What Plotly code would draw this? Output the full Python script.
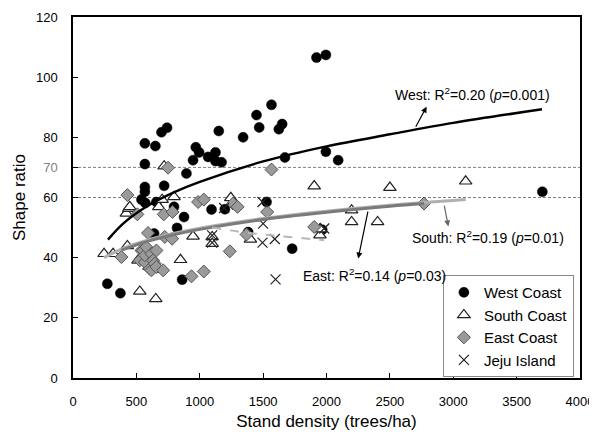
import plotly.graph_objects as go

# ---------------- data ----------------
west_x = [271, 374, 540, 567, 567, 567, 567, 571, 650, 658, 698, 719, 742, 797, 821, 640, 861, 876,
          895, 947, 969, 995, 1066, 1093, 1124, 1124, 1150, 1172, 1198, 1342, 1382, 1448, 1469, 1527,
          1566, 1624, 1650, 1672, 1729, 1921, 1966, 1995, 1995, 2092, 3703]
west_y = [31.3, 28.2, 59.3, 78, 71.1, 63.5, 61.9, 58.2, 77.1, 58.5, 81.7, 63.9, 83.2, 56.9, 49.9, 48, 32.7, 53.5,
          68, 72.4, 76.7, 75, 73.5, 56, 75, 72.1, 82.1, 71.7, 56.1, 80, 48.5, 87.4, 83.3, 58.5,
          90.8, 82.7, 84.4, 73.3, 43, 106.5, 49.3, 107.4, 75.2, 72.4, 61.9]

south_x = [245, 316, 429, 421, 440, 448, 513, 527, 545, 600, 653, 653, 677, 703, 719, 797, 848, 947,
           1098, 1098, 1245, 1400, 1903, 1948, 1953, 2198, 2198, 2403, 2500, 3098]
south_y = [41.3, 41.3, 43.9, 54.7, 56.3, 56.9, 39.1, 28.8, 40, 37, 26.3, 36, 56.9, 59.3, 70.4, 60.2, 39.3, 47.1,
           46.9, 44.7, 59.9, 46.1, 63.8, 47.5, 49.5, 55.8, 51.9, 51.9, 63.3, 65.4]

east_x = [382, 429, 508, 527, 540, 553, 567, 567, 579, 592, 606, 619, 619, 632, 645, 658, 658, 711,
          716, 724, 750, 782, 785, 935, 987, 1032, 1032, 1237, 1263, 1298, 1369, 1532, 1566, 1903, 2769]
east_y = [40.2, 60.8, 54.4, 39.1, 42.4, 42.4, 38.5, 40.8, 43.5, 48.2, 36.3, 41.3, 35.8, 39.1, 38, 42.4, 36.9, 35.8,
          54.4, 46.9, 69.9, 46.3, 55.2, 33.8, 58.5, 59.3, 35.4, 42.1, 58, 56.9, 47.7, 55.2, 69.3, 50.2, 58]

jeju_x = [1098, 1098, 1192, 1495, 1500, 1495, 1592, 1598, 1982]
jeju_y = [47.4, 45, 56.5, 58.5, 51.3, 45, 46.2, 32.8, 49.7]

# trend curves
west_fit_x = [276, 400, 600, 800, 1000, 1500, 2000, 2500, 3000, 3700]
west_fit_y = [46, 51.5, 57.5, 61.8, 65.2, 72, 77, 81, 84.8, 89.3]
south_fit_x = [245, 400, 600, 800, 1000, 1500, 2000, 2500, 3098]
south_fit_y = [40, 43.2, 46.0, 48.1, 49.8, 53.0, 55.4, 57.4, 59.3]
east_fit_x = [382, 600, 800, 1000, 1500, 2000, 2500, 2769]
east_fit_y = [42.5, 45.6, 47.7, 49.4, 52.7, 55.1, 57.1, 58.0]
jeju_fit_x = [1098, 1300, 1500, 1700, 1982]
jeju_fit_y = [50, 48.7, 47.7, 46.9, 45.8]

ref_lines = [60, 70]
y_ticks = [0, 20, 40, 60, 70, 80, 100, 120]
y_ticktext = ["0", "20", "40", "60", "<span style='color:#808080'>70</span>", "80", "100", "120"]
x_ticks = [0, 500, 1000, 1500, 2000, 2500, 3000, 3500, 4000]

FONT = "Arial, Liberation Sans, sans-serif"

fig = go.Figure()

fig.add_trace(go.Scatter(x=west_x, y=west_y, mode="markers", name="West Coast",
                         marker=dict(symbol="circle", size=10, color="black",
                                     line=dict(color="black", width=0.5))))
fig.add_trace(go.Scatter(x=south_x, y=south_y, mode="markers", name="South Coast",
                         marker=dict(symbol="triangle-up", size=11, color="white",
                                     line=dict(color="#222", width=1.2))))
fig.add_trace(go.Scatter(x=east_x, y=east_y, mode="markers", name="East Coast",
                         marker=dict(symbol="diamond", size=10, color="#9a9a9a",
                                     line=dict(color="#555", width=1))))
fig.add_trace(go.Scatter(x=jeju_x, y=jeju_y, mode="markers", name="Jeju Island",
                         marker=dict(symbol="x-thin-open", size=10, color="#222",
                                     line=dict(color="#222", width=1.2))))

# trend lines
fig.add_trace(go.Scatter(x=south_fit_x, y=south_fit_y, mode="lines", showlegend=False,
                         line=dict(color="#b0b0b0", width=3, shape="spline"), hoverinfo="skip"))
fig.add_trace(go.Scatter(x=east_fit_x, y=east_fit_y, mode="lines", showlegend=False,
                         line=dict(color="#7a7a7a", width=3, shape="spline"), hoverinfo="skip"))
fig.add_trace(go.Scatter(x=jeju_fit_x, y=jeju_fit_y, mode="lines", showlegend=False,
                         line=dict(color="#b8b8b8", width=2, dash="dash", shape="spline"), hoverinfo="skip"))
fig.add_trace(go.Scatter(x=west_fit_x, y=west_fit_y, mode="lines", showlegend=False,
                         line=dict(color="black", width=2.5, shape="spline"), hoverinfo="skip"))

for yv in ref_lines:
    fig.add_hline(y=yv, line=dict(color="#808080", width=1, dash="3px,2px"), layer="below")

# annotations
fig.add_annotation(x=2790, y=90.2, ax=2698, ay=83, xref="x", yref="y", axref="x", ayref="y",
                   text="", showarrow=True, arrowhead=2, arrowsize=1, arrowwidth=1.2, arrowcolor="black")
fig.add_annotation(x=2961, y=50.4, ax=2927, ay=57.8, xref="x", yref="y", axref="x", ayref="y",
                   text="", showarrow=True, arrowhead=2, arrowsize=1, arrowwidth=1.2, arrowcolor="#666")
fig.add_annotation(x=2250, y=39.7, ax=2329, ay=55.8, xref="x", yref="y", axref="x", ayref="y",
                   text="", showarrow=True, arrowhead=2, arrowsize=1, arrowwidth=1.2, arrowcolor="black")

ann_font = dict(family=FONT, size=14, color="black")
fig.add_annotation(x=3155, y=94.3, xref="x", yref="y", showarrow=False, font=ann_font,
                   text="West: R<sup>2</sup>=0.20 (<i>p</i>=0.001)")
fig.add_annotation(x=3274, y=46.9, xref="x", yref="y", showarrow=False, font=ann_font,
                   text="South: R<sup>2</sup>=0.19 (<i>p</i>=0.01)")
fig.add_annotation(x=2382, y=34.1, xref="x", yref="y", showarrow=False, font=ann_font,
                   text="East: R<sup>2</sup>=0.14 (<i>p</i>=0.03)")

axis_common = dict(showgrid=False, zeroline=False, showline=True, linecolor="black", linewidth=1.5,
                   mirror=True, ticks="inside", ticklen=5, tickcolor="black", automargin=False,
                   tickfont=dict(family=FONT, size=13, color="black"))

# the page body adds an 8px offset, so the figure is sized/margined to compensate
fig.update_layout(
    width=589, height=431,
    margin=dict(l=65, r=17, t=9, b=61),
    paper_bgcolor="white", plot_bgcolor="white",
    font=dict(family=FONT, color="black"),
    xaxis=dict(range=[0, 4000], tickvals=x_ticks, ticklabelstandoff=11,
               title=dict(text="Stand density (trees/ha)", font=dict(family=FONT, size=17), standoff=7),
               **axis_common),
    yaxis=dict(range=[0, 120], tickvals=y_ticks, ticktext=y_ticktext, ticklabelstandoff=11,
               title=dict(text="Shape ratio", font=dict(family=FONT, size=17), standoff=6),
               **axis_common),
    legend=dict(x=0.988, xanchor="right", y=0.285, yanchor="top",
                bgcolor="white", bordercolor="#888", borderwidth=1,
                font=dict(family=FONT, size=15, color="black"),
                itemwidth=30, tracegroupgap=0),
    showlegend=True,
)

fig.write_html("out.html")
